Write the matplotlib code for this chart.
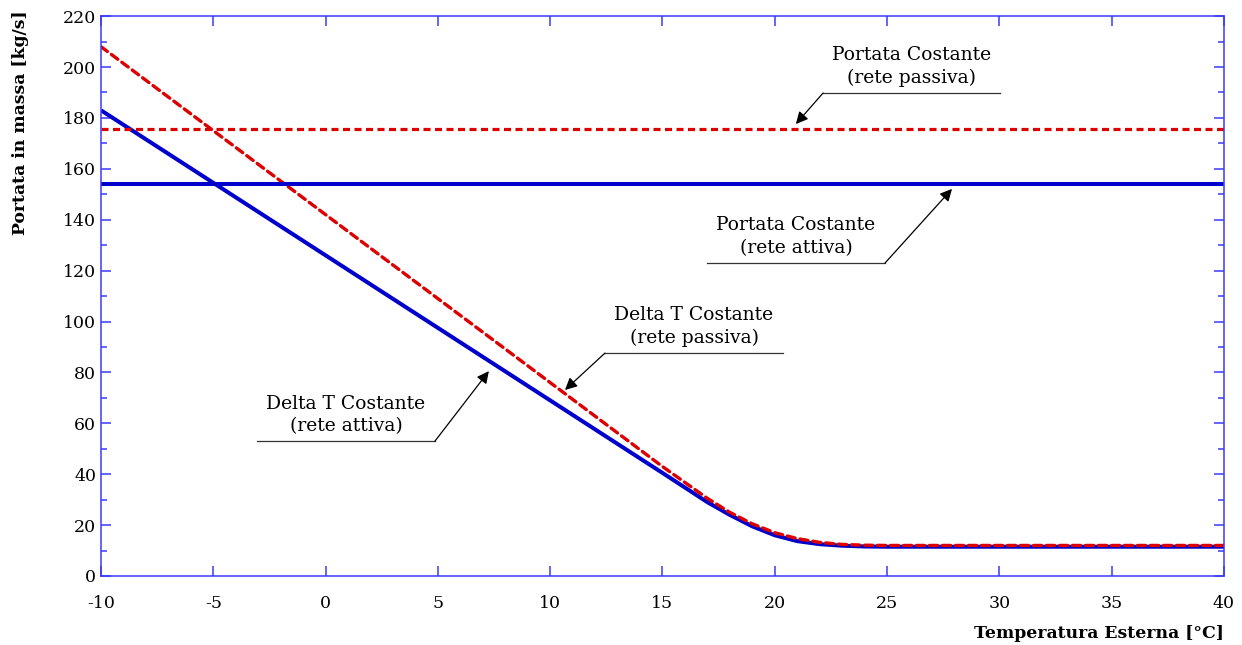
import matplotlib.pyplot as plt
from matplotlib.ticker import MultipleLocator

# temperature esterna [°C]
temp = [-10, -5, 0, 5, 10, 15, 17, 18, 19, 20, 21, 22, 23, 24, 25, 30, 35, 40]
# portata delta T costante, rete attiva / passiva [kg/s]
dt_attiva = [183, 154.5, 126, 97.5, 69, 40.5, 29, 24, 19.5, 16, 13.7, 12.5, 11.9, 11.6,
             11.5, 11.5, 11.5, 11.5]
dt_passiva = [208, 175, 142, 109, 76, 43, 30.5, 25, 20.5, 17, 14.7, 13.2, 12.4, 12.1,
              12, 12, 12, 12]
# portata costante
pc_attiva = 154
pc_passiva = 175.5

blue = "#0000cc"
red = "#dd0000"
axcol = "#3a3aff"

plt.rcParams["font.family"] = ["DejaVu Serif"]
plt.rcParams["axes.unicode_minus"] = False

fig = plt.figure(figsize=(12.42, 6.45), dpi=100)
ax = fig.add_axes([0.0813, 0.107, 0.9042, 0.868])

ax.plot(temp, dt_attiva, color=blue, lw=2.9, solid_capstyle="butt")
ax.plot(temp, dt_passiva, color=red, lw=2.4, dashes=(2.4, 1.5), dash_capstyle="round")
ax.axhline(pc_attiva, color=blue, lw=2.9)
ax.axhline(pc_passiva, color=red, lw=2.3, dashes=(2.2, 1.4))

ax.set_xlim(-10, 40)
ax.set_ylim(0, 220)
ax.xaxis.set_major_locator(MultipleLocator(5))
ax.yaxis.set_major_locator(MultipleLocator(20))
ax.yaxis.set_minor_locator(MultipleLocator(10))

for s in ax.spines.values():
    s.set_color(axcol)
    s.set_linewidth(1.1)
ax.tick_params(which="both", direction="in", color=axcol, top=True, right=True,
               labelsize=12.5, width=1.1)
ax.tick_params(axis="x", pad=14)
ax.tick_params(which="major", length=7)
ax.tick_params(which="minor", length=4)

ax.set_ylabel("Portata in massa [kg/s]", fontsize=12.4, fontweight="bold")
ax.yaxis.set_label_coords(-0.064, 0.81)
fig.text(0.9855, 0.0186, "Temperatura Esterna [°C]", fontsize=12.4, fontweight="bold",
         ha="right", va="center")

# annotazioni: testo, sottolineatura, freccia
notes = [
    ("Portata Costante\n(rete passiva)", (22.15, 30.03), 189.8, (22.15, 189.8), (20.94, 177.6)),
    ("Portata Costante\n(rete attiva)", (16.98, 24.91), 123.0, (24.91, 123.0), (27.89, 152.1)),
    ("Delta T Costante\n(rete passiva)", (12.44, 20.37), 87.6, (12.44, 87.6), (10.66, 73.1)),
    ("Delta T Costante\n(rete attiva)", (-3.05, 4.87), 53.0, (4.87, 53.0), (7.27, 80.5)),
]
for txt, (x0, x1), yl, start, tip in notes:
    ax.plot([x0, x1], [yl, yl], color="#333333", lw=0.9)
    ax.text((x0 + x1) / 2, yl + 2.5, txt, ha="center", va="bottom", fontsize=13.5,
            linespacing=1.3)
    ax.annotate("", xy=tip, xytext=start,
                arrowprops=dict(arrowstyle="-|>", color="k", lw=0.9,
                                mutation_scale=18, shrinkA=0, shrinkB=0))

fig.savefig("out.png", dpi=100)
